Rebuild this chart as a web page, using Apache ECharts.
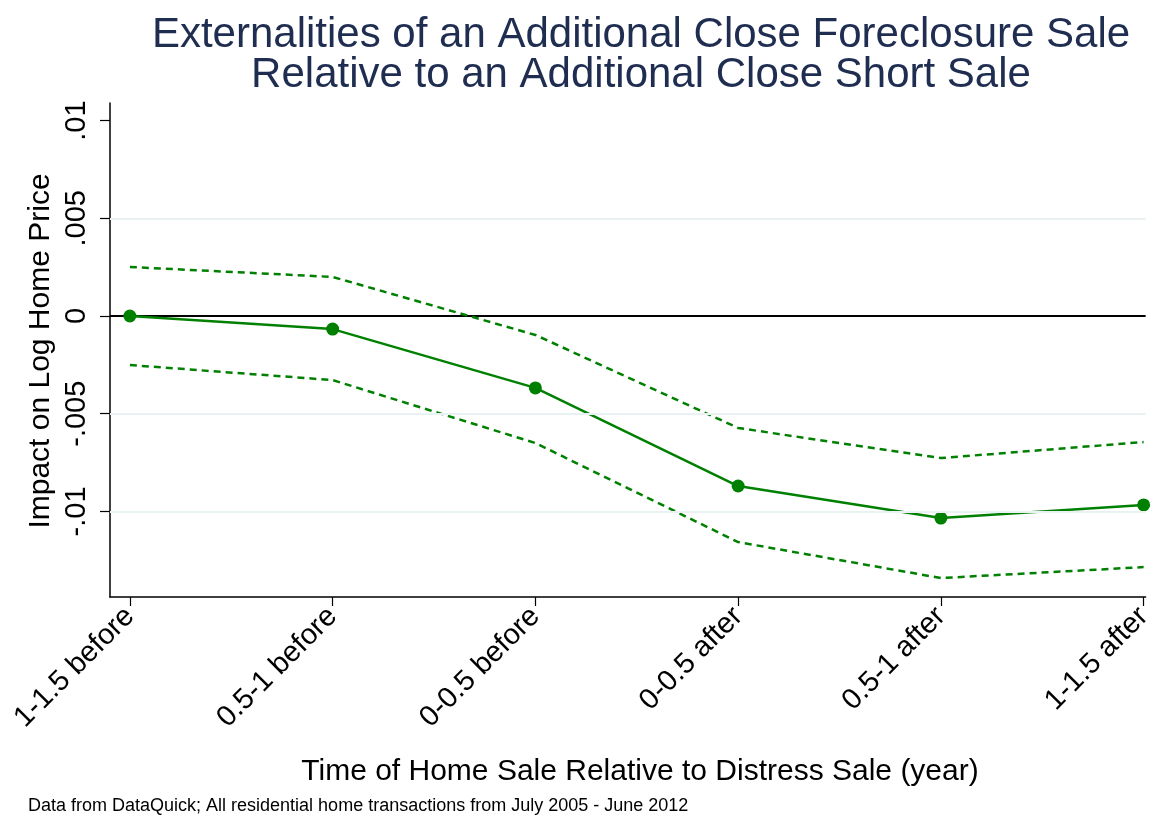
<!DOCTYPE html>
<html>
<head>
<meta charset="utf-8">
<script src="https://cdn.jsdelivr.net/npm/echarts@6/dist/echarts.min.js"></script>
<style>
  html, body { margin: 0; padding: 0; background: #fff; }
  #chart { width: 1156px; height: 816px; }
</style>
</head>
<body>
<div id="chart"></div>
<script>
const categories = ["1-1.5 before", "0.5-1 before", "0-0.5 before", "0-0.5 after", "0.5-1 after", "1-1.5 after"];
const estimate = [0, -0.00067, -0.00368, -0.0087, -0.01034, -0.00967];
const upperCI = [0.00251, 0.0020, -0.00097, -0.00573, -0.00727, -0.00645];
const lowerCI = [-0.00251, -0.00328, -0.0065, -0.01157, -0.01341, -0.01285];
const yTicks = [-0.01, -0.005, 0, 0.005, 0.01];
const yTickLabels = ["-.01", "-.005", "0", ".005", ".01"];
const gridValues = [-0.01, -0.005, 0.005];

const green = "#008000";
const font = "'Liberation Sans', Arial, sans-serif";

const chart = echarts.init(document.getElementById("chart"));

const toPoints = (vals) => vals.map((v, i) => [i, v]);

chart.setOption({
  animation: false,
  backgroundColor: "#fff",
  textStyle: { fontFamily: font },
  grid: { left: 110, right: 4, top: 103, bottom: 219 },
  graphic: [
    {
      type: "text", x: 641, y: 15,
      style: {
        text: "Externalities of an Additional Close Foreclosure Sale\nRelative to an Additional Close Short Sale",
        fill: "#1e2d50", font: "42px " + font, align: "center", verticalAlign: "top", lineHeight: 40
      }
    },
    {
      type: "text", x: 640, y: 772,
      style: {
        text: "Time of Home Sale Relative to Distress Sale (year)",
        fill: "#000", font: "30px " + font, align: "center", verticalAlign: "middle"
      }
    },
    {
      type: "text", x: 28, y: 806,
      style: {
        text: "Data from DataQuick; All residential home transactions from July 2005 - June 2012",
        fill: "#000", font: "18px " + font, verticalAlign: "middle"
      }
    },
    {
      type: "text", x: 41, y: 351, rotation: Math.PI / 2,
      style: {
        text: "Impact on Log Home Price", fill: "#000", font: "30px " + font,
        align: "center", verticalAlign: "middle"
      }
    }
  ],
  xAxis: {
    type: "value",
    min: -0.098,
    max: 5.01,
    axisLine: { onZero: false, lineStyle: { color: "#000", width: 1.5 } },
    axisTick: { length: 9, customValues: [0, 1, 2, 3, 4, 5], lineStyle: { color: "#000", width: 1.2 } },
    axisLabel: {
      customValues: [0, 1, 2, 3, 4, 5],
      rotate: 45,
      margin: 15,
      fontSize: 29,
      color: "#000",
      fontFamily: font,
      formatter: (v) => categories[Math.round(v)] || ""
    },
    splitLine: { show: false }
  },
  yAxis: {
    type: "value",
    min: -0.01438,
    max: 0.0109,
    axisLine: { show: true, onZero: false, lineStyle: { color: "#000", width: 1.5 } },
    axisTick: { show: true, length: 10, customValues: yTicks, lineStyle: { color: "#000", width: 1.2 } },
    axisLabel: {
      customValues: yTicks,
      rotate: 90,
      margin: 19,
      fontSize: 29,
      color: "#000",
      fontFamily: font,
      formatter: (v) => yTickLabels[yTicks.findIndex((t) => Math.abs(t - v) < 1e-9)] || ""
    },
    splitLine: { show: false }
  },
  series: [
    {
      // invisible carrier for the light grid lines, drawn under everything
      type: "line",
      data: [],
      z: 1,
      markLine: {
        silent: true,
        symbol: "none",
        precision: 6,
        label: { show: false },
        lineStyle: { color: "#eaf1f3", width: 2, type: "solid" },
        data: gridValues.map((v) => ({ yAxis: v }))
      }
    },
    {
      type: "line",
      data: toPoints(upperCI),
      symbol: "none",
      lineStyle: { color: green, width: 2.5, type: [7, 5] },
      z: 3
    },
    {
      type: "line",
      data: toPoints(lowerCI),
      symbol: "none",
      lineStyle: { color: green, width: 2.5, type: [7, 5] },
      z: 3
    },
    {
      type: "line",
      data: toPoints(estimate),
      symbol: "circle",
      symbolSize: 13,
      itemStyle: { color: green },
      lineStyle: { color: green, width: 2.5 },
      z: 4,
      markLine: {
        silent: true,
        symbol: "none",
        precision: 6,
        label: { show: false },
        lineStyle: { color: "#000", width: 2, type: "solid" },
        data: [{ yAxis: 0 }],
        z: 2
      }
    }
  ]
});
</script>
</body>
</html>
